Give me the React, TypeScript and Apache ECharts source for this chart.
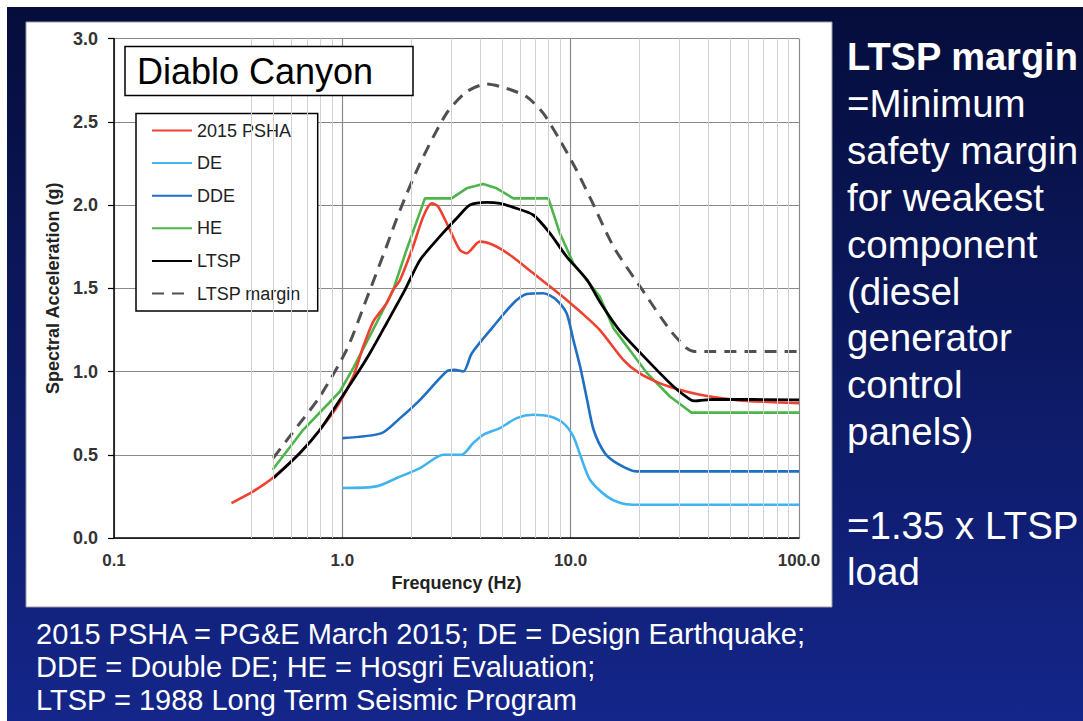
import React, { useEffect, useRef } from 'react';
import * as echarts from 'echarts';

const FONT = '"Liberation Sans", Arial, Helvetica, sans-serif';

// [frequency (Hz), spectral acceleration (g)]
const psha2015: [number, number][] = [
  [0.327, 0.21], [0.407, 0.28], [0.495, 0.36], [0.652, 0.51], [0.798, 0.65], [0.96, 0.8],
  [1.116, 0.97], [1.235, 1.15], [1.366, 1.3], [1.563, 1.41], [1.67, 1.49], [1.79, 1.55],
  [2.04, 1.75], [2.26, 1.93], [2.46, 2.01], [2.63, 1.99], [2.96, 1.85], [3.27, 1.73],
  [3.5, 1.71], [4.0, 1.78], [4.58, 1.76], [5.42, 1.7], [6.86, 1.59], [8.12, 1.51],
  [9.6, 1.43], [11.0, 1.36], [13.4, 1.25], [17.0, 1.07], [20.0, 0.99], [24.5, 0.93],
  [30.0, 0.89], [36.9, 0.86], [45.2, 0.84], [59.2, 0.823], [100, 0.81],
];
const de: [number, number][] = [
  [1.0, 0.3], [1.41, 0.31], [1.73, 0.36], [2.19, 0.42], [2.77, 0.5], [3.33, 0.5],
  [3.74, 0.57], [4.14, 0.62], [4.9, 0.66], [5.8, 0.72], [6.86, 0.74], [8.12, 0.73],
  [9.29, 0.69], [10.27, 0.61], [11.0, 0.5], [12.15, 0.35], [14.4, 0.25], [16.5, 0.21],
  [18.8, 0.2], [100, 0.2],
];
const dde: [number, number][] = [
  [1.0, 0.6], [1.486, 0.63], [1.79, 0.72], [2.19, 0.83], [2.86, 1.0], [3.1, 1.01],
  [3.39, 1.0], [3.69, 1.11], [4.58, 1.27], [5.61, 1.41], [6.42, 1.465], [7.59, 1.47],
  [8.67, 1.43], [9.6, 1.35], [10.27, 1.19], [11.0, 1.03], [11.8, 0.83], [12.6, 0.65],
  [14.1, 0.51], [15.9, 0.45], [19.4, 0.4], [100, 0.4],
];
const he: [number, number][] = [
  [0.495, 0.41], [0.674, 0.65], [0.976, 0.88], [1.116, 1.02], [1.41, 1.29], [1.67, 1.49],
  [1.91, 1.73], [2.04, 1.84], [2.3, 2.04], [3.01, 2.04], [3.5, 2.1], [4.14, 2.126],
  [4.74, 2.1], [5.61, 2.04], [7.99, 2.04], [8.97, 1.83], [10.27, 1.65], [13.4, 1.45],
  [15.4, 1.26], [21.6, 0.99], [27.2, 0.85], [33.8, 0.753], [100, 0.753],
];
const ltsp: [number, number][] = [
  [0.5, 0.36], [0.652, 0.51], [0.798, 0.65], [0.976, 0.83], [1.116, 0.95], [1.32, 1.11],
  [1.563, 1.29], [1.88, 1.49], [2.19, 1.67], [2.67, 1.81], [3.17, 1.92], [3.62, 2.0],
  [4.29, 2.016], [4.9, 2.01], [5.61, 1.986], [6.86, 1.94], [8.12, 1.83], [9.6, 1.69],
  [11.8, 1.55], [13.4, 1.42], [16.3, 1.25], [21.6, 1.07], [28.2, 0.91], [33.3, 0.833],
  [34.9, 0.823], [42.1, 0.833], [100, 0.83],
];
const ltspMargin: [number, number][] = [
  [0.498, 0.48], [0.652, 0.69], [0.798, 0.85], [1.044, 1.13], [1.28, 1.44], [1.56, 1.75],
  [1.79, 1.97], [2.19, 2.25], [2.86, 2.55], [3.5, 2.68], [4.29, 2.727], [5.25, 2.7],
  [6.42, 2.65], [7.59, 2.55], [8.97, 2.39], [10.6, 2.21], [12.4, 2.02], [15.4, 1.75],
  [20.6, 1.49], [27.2, 1.25], [32.2, 1.14], [34.9, 1.12], [100, 1.12],
];

const legendNames = ['2015 PSHA', 'DE', 'DDE', 'HE', 'LTSP', 'LTSP margin'];
const minorGridFreqs = [
  0.4, 0.5, 0.6, 0.7, 0.8, 0.9,
  2, 3, 4, 5, 6, 7, 8, 9,
  20, 30, 40, 50, 60, 70, 80, 90,
];
const yTicks = { min: 0, max: 3, interval: 0.5 };
const sideLines = [
  'LTSP margin', '=Minimum', 'safety margin', 'for weakest', 'component', '(diesel',
  'generator', 'control', 'panels)', '', '=1.35 x LTSP', 'load',
];
const footLines = [
  '2015 PSHA = PG&E March 2015; DE = Design Earthquake;',
  'DDE = Double DE; HE = Hosgri Evaluation;',
  'LTSP = 1988 Long Term Seismic Program',
];

export default function App() {
  const ref = useRef<HTMLDivElement>(null);
  useEffect(() => {
    const chart = echarts.init(ref.current!, null, { renderer: 'svg' });

    const line = (name: string, data: [number, number][], color: string, width: number, extra: any = {}) => ({
      name, type: 'line', data, symbol: 'none', z: 3,
      smooth: 0.25,
      lineStyle: { color, width, ...(extra.lineStyle || {}) },
      itemStyle: { color },
      ...(extra.rest || {}),
    });

    const graphic: any[] = [
      { type: 'rect', z: -20, shape: { x: 7, y: 7, width: 1076, height: 714 },
        style: { fill: new echarts.graphic.LinearGradient(0, 0, 0, 1, [
          { offset: 0, color: '#050d3b' }, { offset: 1, color: '#14268a' }]) } },
      { type: 'rect', z: -10, shape: { x: 26, y: 22, width: 806, height: 585 },
        style: { fill: '#ffffff', stroke: '#9a9a9a', lineWidth: 1 } },
      { type: 'rect', z: 50, shape: { x: 125, y: 46.5, width: 288, height: 49 },
        style: { fill: '#ffffff', stroke: '#000', lineWidth: 1.5 } },
      { type: 'text', z: 51, x: 137, y: 71,
        style: { text: 'Diablo Canyon', fontSize: 36, fontFamily: FONT, fill: '#000', verticalAlign: 'middle' } },
    ];
    sideLines.forEach((t, i) => {
      if (!t) return;
      graphic.push({ type: 'text', z: 10, x: 847, y: 57 + i * 46.8,
        style: { text: t, fontSize: i === 0 ? 38 : 38.5, fontWeight: i === 0 ? 'bold' : 'normal', fontFamily: FONT,
          fill: '#fff', verticalAlign: 'middle' } });
    });
    footLines.forEach((t, i) => {
      graphic.push({ type: 'text', z: 10, x: 36, y: 634 + i * 33,
        style: { text: t, fontSize: 29, fontFamily: FONT, fill: '#fff', verticalAlign: 'middle' } });
    });

    chart.setOption({
      animation: false,
      graphic,
      grid: { left: 114, top: 38.5, width: 685, height: 499.5 },
      legend: {
        data: legendNames, orient: 'vertical', left: 136, top: 113.5,
        itemWidth: 40, itemHeight: 20, itemGap: 12.6,
        padding: [7, 17, 7.5, 15],
        backgroundColor: '#fff', borderColor: '#000', borderWidth: 1.5,
        itemStyle: { opacity: 0 },
        textStyle: { fontSize: 18, color: '#222', fontFamily: FONT, lineHeight: 20 },
      },
      xAxis: {
        type: 'log', logBase: 10, min: 0.1, max: 100,
        name: 'Frequency (Hz)', nameLocation: 'middle', nameGap: 32,
        nameTextStyle: { fontSize: 18, fontWeight: 'bold', color: '#222', fontFamily: FONT },
        axisLine: { show: true, lineStyle: { color: '#000', width: 1.5 } },
        axisTick: { show: false },
        axisLabel: { formatter: (v: number) => v.toFixed(1), fontSize: 17, fontWeight: 'bold', color: '#333', fontFamily: FONT, margin: 14 },
        splitLine: { show: true, lineStyle: { color: '#8a8a8a', width: 1.2 } },
      },
      yAxis: {
        type: 'value', ...yTicks,
        name: 'Spectral Acceleration (g)', nameLocation: 'middle', nameGap: 47,
        nameTextStyle: { fontSize: 18, fontWeight: 'bold', color: '#222', fontFamily: FONT },
        axisLine: { show: true, lineStyle: { color: '#000', width: 1.5 } },
        axisTick: { show: true, length: 6, lineStyle: { color: '#000', width: 1.2 } },
        axisLabel: { formatter: (v: number) => v.toFixed(1), fontSize: 18, fontWeight: 'bold', color: '#333', fontFamily: FONT, margin: 16 },
        splitLine: { show: true, lineStyle: { color: '#8a8a8a', width: 1.2 } },
      },
      series: [
        {
          type: 'line', data: [], z: 1, silent: true,
          markLine: {
            silent: true, symbol: ['none', 'none'], label: { show: false },
            lineStyle: { color: '#d2d2d2', width: 1, type: 'solid' },
            emphasis: { disabled: true },
            data: minorGridFreqs.map((f) => ({ xAxis: f })),
          },
        },
        line('DE', de, '#3fb4ef', 2.6),
        line('DDE', dde, '#1f6fc2', 2.6),
        line('HE', he, '#4db54a', 2.6, { rest: { smooth: false } }),
        line('2015 PSHA', psha2015, '#ef4132', 2.6),
        line('LTSP', ltsp, '#000000', 2.8),
        line('LTSP margin', ltspMargin, '#505050', 3, { lineStyle: { type: [12, 8] } }),
      ],
    });
    return () => chart.dispose();
  }, []);
  return <div ref={ref} style={{ position: 'absolute', left: 0, top: 0, width: 1083, height: 721 }} />;
}
